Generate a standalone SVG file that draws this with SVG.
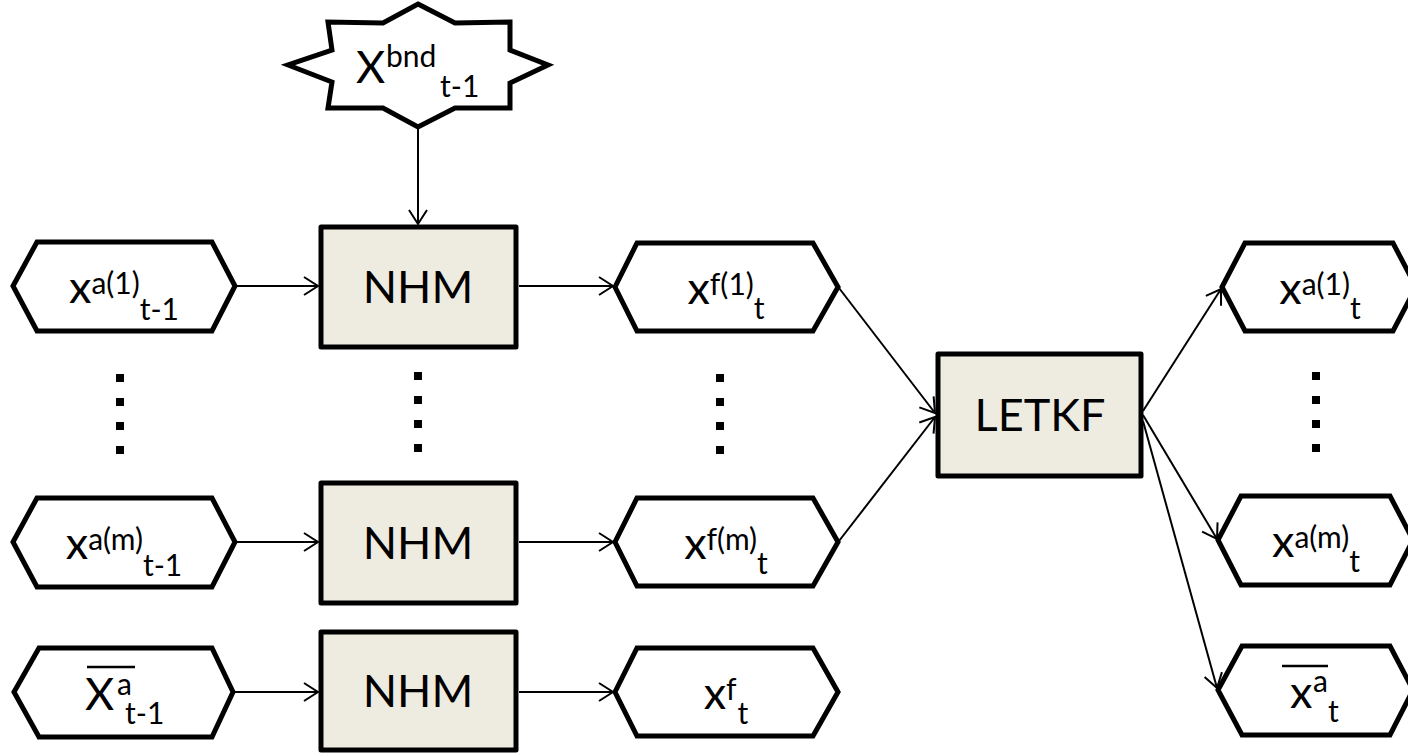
<svg xmlns="http://www.w3.org/2000/svg" width="1408" height="753" viewBox="0 0 1408 753">
<style>
.shp{fill:#fff;stroke:#000;stroke-width:5;stroke-linejoin:miter}
.box{fill:#EEECE1;stroke:#000;stroke-width:5;stroke-linejoin:round}
.t{font-family:Lato,'Open Sans',sans-serif;fill:#000;font-size:45px;font-variant-ligatures:none;font-feature-settings:"liga" 0}
.s{font-size:30px}
.c{fill:none;stroke:#000;stroke-width:2}
.bar{stroke:#000;stroke-width:2.5}
.dot{fill:#000}
</style>
<defs>
<marker id="arr" viewBox="-16 -11 18 22" refX="0" refY="0" markerWidth="18" markerHeight="22" markerUnits="userSpaceOnUse" orient="auto">
<path d="M-14,-9 L0,0 L-14,9" fill="none" stroke="#000" stroke-width="2"/>
</marker>
</defs>
<rect width="1408" height="753" fill="#fff"/>

<g id="connectors">
<line class="c" x1="418" y1="128" x2="418" y2="224" marker-end="url(#arr)"/>
<line class="c" x1="237" y1="286" x2="318" y2="286" marker-end="url(#arr)"/>
<line class="c" x1="519" y1="286" x2="613" y2="286" marker-end="url(#arr)"/>
<line class="c" x1="237" y1="542" x2="318" y2="542" marker-end="url(#arr)"/>
<line class="c" x1="519" y1="542" x2="613" y2="542" marker-end="url(#arr)"/>
<line class="c" x1="234" y1="692" x2="318" y2="692" marker-end="url(#arr)"/>
<line class="c" x1="519" y1="692" x2="613" y2="692" marker-end="url(#arr)"/>
<line class="c" x1="839" y1="288" x2="935" y2="413" marker-end="url(#arr)"/>
<line class="c" x1="839" y1="541" x2="935" y2="417" marker-end="url(#arr)"/>
<line class="c" x1="1143" y1="411" x2="1221" y2="289" marker-end="url(#arr)"/>
<line class="c" x1="1143" y1="415" x2="1217" y2="539" marker-end="url(#arr)"/>
<line class="c" x1="1143" y1="421" x2="1217" y2="688" marker-end="url(#arr)"/>
</g>

<g id="bnd">
<polygon class="shp" points="418,4 455,23 510,22 510,50 548,65 510,83 510,108 455,108 418,127 383,108 328,108 332,82 288,65 332,50 328,22 383,23"/>
<text class="t" x="356" y="83" font-size="46">X</text>
<text class="t s" x="386" y="67">bnd</text>
<text class="t s" x="440" y="97">t-1</text>
</g>

<g id="xa1_prev">
<polygon class="shp" points="13,286 37,242 212,242 235,286 212,331 37,331"/>
<text class="t" x="124" y="303" text-anchor="middle">x<tspan class="s" dy="-9">a(1)</tspan><tspan class="s" dy="26">t-1</tspan></text>
</g>
<g id="xam_prev">
<polygon class="shp" points="13,542 37,498 212,498 235,542 212,587 37,587"/>
<text class="t" x="124" y="559" text-anchor="middle">x<tspan class="s" dy="-9">a(m)</tspan><tspan class="s" dy="26">t-1</tspan></text>
</g>
<g id="xabar_prev">
<polygon class="shp" points="14,692 39,648 212,648 233,692 212,737 39,737"/>
<line class="bar" x1="87" y1="667" x2="135" y2="667"/>
<text class="t" x="85" y="710" font-size="46">X</text>
<text class="t s" x="117" y="695">a</text>
<text class="t s" x="125" y="724">t-1</text>
</g>

<g id="nhm1">
<rect class="box" x="321" y="227" width="195" height="120"/>
<text class="t" x="418" y="303" text-anchor="middle">NHM</text>
</g>
<g id="nhm2">
<rect class="box" x="321" y="483" width="195" height="120"/>
<text class="t" x="418" y="559" text-anchor="middle">NHM</text>
</g>
<g id="nhm3">
<rect class="box" x="321" y="632" width="195" height="118"/>
<text class="t" x="418" y="707" text-anchor="middle">NHM</text>
</g>

<g id="xf1">
<polygon class="shp" points="615,287 637,243 813,243 838,287 813,331 637,331"/>
<text class="t" x="726" y="304" text-anchor="middle">x<tspan class="s" dy="-9">f(1)</tspan><tspan class="s" dy="24">t</tspan></text>
</g>
<g id="xfm">
<polygon class="shp" points="615,542 637,498 813,498 838,542 813,586 637,586"/>
<text class="t" x="726" y="559" text-anchor="middle">x<tspan class="s" dy="-9">f(m)</tspan><tspan class="s" dy="24">t</tspan></text>
</g>
<g id="xf">
<polygon class="shp" points="615,692 637,648 813,648 838,692 813,736 637,736"/>
<text class="t" x="726" y="709" text-anchor="middle">x<tspan class="s" dy="-9">f</tspan><tspan class="s" dy="24" dx="1">t</tspan></text>
</g>

<g id="letkf">
<rect class="box" x="938" y="354" width="203" height="122"/>
<text class="t" x="1040" y="431" text-anchor="middle">LETKF</text>
</g>

<g id="xa1">
<polygon class="shp" points="1222,287 1245,243 1393,243 1416,287 1393,331 1245,331"/>
<text class="t" x="1320" y="304" text-anchor="middle">x<tspan class="s" dy="-9">a(1)</tspan><tspan class="s" dy="24">t</tspan></text>
</g>
<g id="xam">
<polygon class="shp" points="1218,540 1241,496 1390,496 1413,540 1390,585 1241,585"/>
<text class="t" x="1316" y="557" text-anchor="middle">x<tspan class="s" dy="-9">a(m)</tspan><tspan class="s" dy="24">t</tspan></text>
</g>
<g id="xabar">
<polygon class="shp" points="1218,690 1242,646 1390,646 1413,690 1390,735 1242,735"/>
<line class="bar" x1="1282" y1="666" x2="1328" y2="666"/>
<text class="t" x="1290" y="708">x</text>
<text class="t s" x="1313" y="692">a</text>
<text class="t s" x="1328" y="722">t</text>
</g>

<g id="dots">
<rect class="dot" x="116" y="374" width="8" height="8"/>
<rect class="dot" x="116" y="398" width="8" height="8"/>
<rect class="dot" x="116" y="422" width="8" height="8"/>
<rect class="dot" x="116" y="446" width="8" height="8"/>
<rect class="dot" x="414" y="372" width="8" height="8"/>
<rect class="dot" x="414" y="396" width="8" height="8"/>
<rect class="dot" x="414" y="420" width="8" height="8"/>
<rect class="dot" x="414" y="444" width="8" height="8"/>
<rect class="dot" x="716" y="374" width="8" height="8"/>
<rect class="dot" x="716" y="398" width="8" height="8"/>
<rect class="dot" x="716" y="422" width="8" height="8"/>
<rect class="dot" x="716" y="446" width="8" height="8"/>
<rect class="dot" x="1312" y="372" width="8" height="8"/>
<rect class="dot" x="1312" y="396" width="8" height="8"/>
<rect class="dot" x="1312" y="420" width="8" height="8"/>
<rect class="dot" x="1312" y="444" width="8" height="8"/>
</g>
</svg>
